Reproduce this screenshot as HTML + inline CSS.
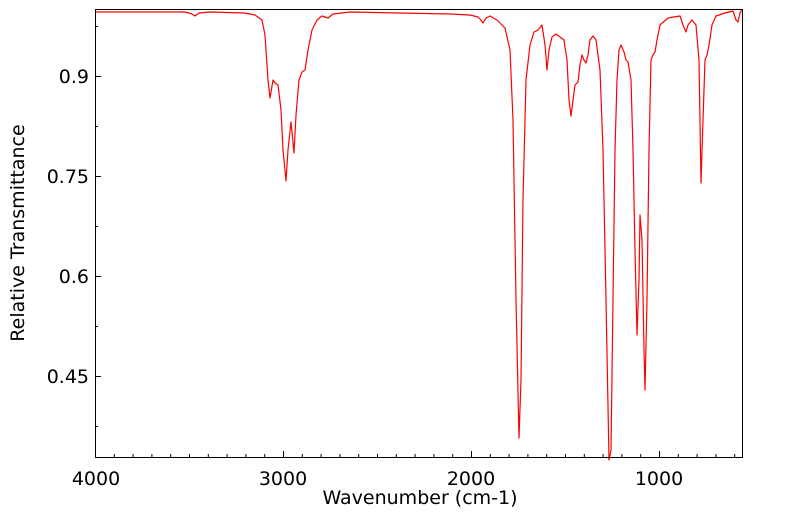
<!DOCTYPE html>
<html><head><meta charset="utf-8"><style>body{margin:0;background:#fff}svg{display:block}</style></head><body>
<svg width="799" height="516" xmlns="http://www.w3.org/2000/svg" font-family="'DejaVu Sans','Liberation Sans',sans-serif">
<rect width="799" height="516" fill="#fff"/>
<path fill="none" stroke="#f00" stroke-width="1.2" stroke-linejoin="round" d="M96,12 L150,12 L185,12 L192,14 L195,16 L199,13 L210,12 L245,13 L255,15 L262,20 L265,35 L268,80 L270,98 L273,80 L275,83 L278,85 L281,110 L283,150 L286,181 L288,150 L291,122 L294,153 L296,115 L299,80 L302,72 L305,70 L308,50 L312,30 L317,20 L322,16 L328,18 L333,14 L350,12 L400,13 L450,14 L470,15 L478,17 L481,20 L483,23 L486,18 L490,16 L497,20 L505,28 L510,50 L513,120 L516,300 L519,438 L521,380 L523,200 L526,80 L530,45 L534,32 L538,30 L542,25 L545,45 L547,70 L549,50 L552,37 L556,34 L560,37 L564,40 L567,60 L569,100 L571,116 L573,100 L575,85 L578,82 L580,65 L582,55 L584,60 L586,63 L588,55 L590,40 L593,36 L596,40 L600,70 L603,150 L606,300 L609,460 L611,450 L613,300 L615,150 L617,80 L619,50 L621,45 L624,52 L626,60 L628,62 L631,80 L633,150 L635,250 L637,335 L639,280 L640,215 L642,240 L644,350 L645,390 L647,300 L649,150 L651,60 L653,55 L655,52 L657,40 L660,25 L668,18 L680,16 L683,25 L686,32 L688,25 L692,20 L696,25 L699,60 L701,183 L703,120 L705,60 L707,55 L709,45 L712,25 L716,16 L725,13 L733,11 L736,20 L738,22 L740,13 L742,10"/>
<rect x="95.5" y="9.5" width="647" height="448" fill="none" stroke="#000" stroke-width="1"/>
<g stroke="#000" stroke-width="1">
<path d="M95,76.5h6M95,176.5h6M95,276.5h6M95,376.5h6M95,26.5h3M95,126.5h3M95,226.5h3M95,326.5h3M95,426.5h3"/>
<path d="M283.5,457v-6M471.5,457v-6M659.5,457v-6"/>
<path id="mt" d="M114.3,457v-3M133.1,457v-3M151.9,457v-3M170.7,457v-3M189.5,457v-3M208.3,457v-3M227.1,457v-3M245.9,457v-3M264.7,457v-3"/>
<use href="#mt" x="188"/><use href="#mt" x="376"/>
<path d="M678.3,457v-3M697.1,457v-3M715.9,457v-3M734.7,457v-3"/>
</g>
<g font-size="19" fill="#000" text-anchor="middle">
<text x="96" y="485">4000</text><text x="283" y="485">3000</text><text x="471" y="485">2000</text><text x="659" y="485">1000</text>
<text x="420" y="504">Wavenumber (cm-1)</text>
</g>
<g font-size="19" fill="#000" text-anchor="end">
<text x="89" y="83">0.9</text><text x="89" y="183">0.75</text><text x="89" y="283">0.6</text><text x="89" y="383">0.45</text>
</g>
<text transform="translate(24,233) rotate(-90)" font-size="19" text-anchor="middle" fill="#000">Relative Transmittance</text>
</svg>
</body></html>
